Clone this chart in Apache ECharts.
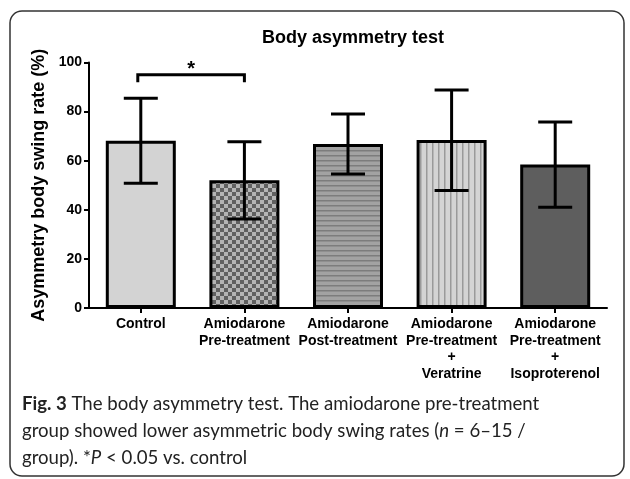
<!DOCTYPE html>
<html>
<head>
<meta charset="utf-8">
<script src="https://cdn.jsdelivr.net/npm/echarts@6/dist/echarts.min.js"></script>
<style>
  html, body { margin: 0; padding: 0; background: #fff; }
  #chart { width: 630px; height: 479px; }
</style>
</head>
<body>
<div id="chart"></div>
<script>
// Data
const categories = [
  "Control",
  "Amiodarone\nPre-treatment",
  "Amiodarone\nPost-treatment",
  "Amiodarone\nPre-treatment\n+\nVeratrine",
  "Amiodarone\nPre-treatment\n+\nIsoproterenol",
];
const means = [68.1, 52.0, 66.8, 68.4, 58.5];
const errLow = [50.8, 36.3, 54.6, 47.9, 41.0];
const errHigh = [85.4, 67.7, 79.0, 88.8, 75.8];
const yTicks = { min: 0, max: 100, interval: 20 };
// [from category, to category, bracket level, leg end]
const sigPairs = [[0, 1, 95, 92]];
const sigLabel = "*";

const FONT = "'Liberation Sans', Arial, sans-serif";
const CAPTION_FONT = "Lato, 'Open Sans', sans-serif";

// fill patterns for each bar
function makePattern(kind) {
  const c = document.createElement("canvas");
  const ctx = c.getContext("2d");
  if (kind === "checker") {
    c.width = 8; c.height = 8;
    ctx.fillStyle = "#b4b4b4";
    ctx.fillRect(0, 0, 8, 8);
    ctx.fillStyle = "#606060";
    ctx.fillRect(0, 0, 4, 4);
    ctx.fillRect(4, 4, 4, 4);
  } else if (kind === "hstripe") {
    c.width = 4; c.height = 5;
    ctx.fillStyle = "#a2a2a2";
    ctx.fillRect(0, 0, 4, 5);
    ctx.fillStyle = "#7c7c7c";
    ctx.fillRect(0, 0, 4, 1.5);
  } else if (kind === "vstripe") {
    c.width = 6; c.height = 4;
    ctx.fillStyle = "#d4d4d4";
    ctx.fillRect(0, 0, 6, 4);
    ctx.fillStyle = "#9a9a9a";
    ctx.fillRect(0, 0, 1.5, 4);
  }
  return { image: c, repeat: "repeat" };
}

const barFills = [
  "#d3d3d3",
  makePattern("checker"),
  makePattern("hstripe"),
  makePattern("vstripe"),
  "#5e5e5e",
];

const chart = echarts.init(document.getElementById("chart"), null, { renderer: "canvas" });

chart.setOption({
  animation: false,
  title: {
    text: "Body asymmetry test",
    left: 348,
    top: 24,
    textAlign: "center",
    textStyle: { fontFamily: FONT, fontSize: 18, fontWeight: "bold", color: "#000" },
  },
  grid: { left: 89, right: 23, top: 62.5, bottom: 171, containLabel: false },
  xAxis: {
    type: "category",
    data: categories,
    axisLine: { lineStyle: { color: "#000", width: 2 } },
    axisTick: { show: true, alignWithLabel: true, length: 5, lineStyle: { color: "#000", width: 2 } },
    axisLabel: {
      interval: 0,
      color: "#000",
      fontFamily: FONT,
      fontSize: 14,
      fontWeight: "bold",
      lineHeight: 16.5,
      margin: 8,
    },
  },
  yAxis: {
    type: "value",
    min: yTicks.min,
    max: yTicks.max,
    interval: yTicks.interval,
    name: "Asymmetry body swing rate (%)",
    nameLocation: "middle",
    nameGap: 41,
    nameTextStyle: { fontFamily: FONT, fontSize: 18, fontWeight: "bold", color: "#000" },
    axisLine: { show: true, lineStyle: { color: "#000", width: 2 } },
    axisTick: { show: true, length: 5, lineStyle: { color: "#000", width: 2 } },
    axisLabel: { color: "#000", fontFamily: FONT, fontSize: 14, fontWeight: "bold", margin: 7 },
    splitLine: { show: false },
  },
  series: [
    {
      type: "bar",
      barWidth: 70,
      data: means.map((v, i) => ({
        value: v,
        itemStyle: { color: barFills[i], borderColor: "#000", borderWidth: 3 },
      })),
      z: 2,
    },
    {
      type: "custom",
      z: 5,
      data: categories.map((c, i) => [i, errLow[i], errHigh[i]]),
      renderItem: (params, api) => {
        const lo = api.coord([api.value(0), api.value(1)]);
        const hi = api.coord([api.value(0), api.value(2)]);
        const half = 17;
        const style = { stroke: "#000", lineWidth: 3 };
        return {
          type: "group",
          children: [
            { type: "line", shape: { x1: lo[0], y1: lo[1], x2: hi[0], y2: hi[1] }, style },
            { type: "line", shape: { x1: hi[0] - half, y1: hi[1], x2: hi[0] + half, y2: hi[1] }, style },
            { type: "line", shape: { x1: lo[0] - half, y1: lo[1], x2: lo[0] + half, y2: lo[1] }, style },
          ],
        };
      },
    },
    {
      type: "custom",
      z: 5,
      data: sigPairs,
      renderItem: (params, api) => {
        const a = api.coord([api.value(0), api.value(2)]);
        const b = api.coord([api.value(1), api.value(2)]);
        const legA = api.coord([api.value(0), api.value(3)]);
        const x0 = a[0] - 3;
        const x1 = b[0];
        return {
          type: "group",
          children: [
            {
              type: "polyline",
              shape: { points: [[x0, legA[1]], [x0, a[1]], [x1, a[1]], [x1, legA[1]]] },
              style: { stroke: "#000", lineWidth: 3, fill: null },
            },
            {
              type: "text",
              style: {
                x: (x0 + x1) / 2,
                y: a[1] - 5,
                text: sigLabel,
                align: "center",
                verticalAlign: "middle",
                fontFamily: FONT,
                fontSize: 20,
                fontWeight: "bold",
                fill: "#000",
              },
            },
          ],
        };
      },
    },
  ],
  graphic: [
    {
      type: "rect",
      shape: { x: 10, y: 11, width: 614, height: 465, r: 12 },
      style: { fill: null, stroke: "#333", lineWidth: 1.5 },
      silent: true,
    },
    {
      type: "text",
      left: 22,
      top: 390,
      style: {
        text:
          "{b|Fig. 3} The body asymmetry test. The amiodarone pre-treatment\n" +
          "group showed lower asymmetric body swing rates ({i|n} = 6–15 /\n" +
          "group). *{i|P} < 0.05 vs. control",
        fontFamily: CAPTION_FONT,
        fontSize: 18.6,
        lineHeight: 27,
        fill: "#222",
        rich: {
          b: { fontFamily: CAPTION_FONT, fontSize: 18.6, fontWeight: "bold", fill: "#222", lineHeight: 27 },
          i: { fontFamily: CAPTION_FONT, fontSize: 18.6, fontStyle: "italic", fill: "#222", lineHeight: 27 },
        },
      },
    },
  ],
});
</script>
</body>
</html>
